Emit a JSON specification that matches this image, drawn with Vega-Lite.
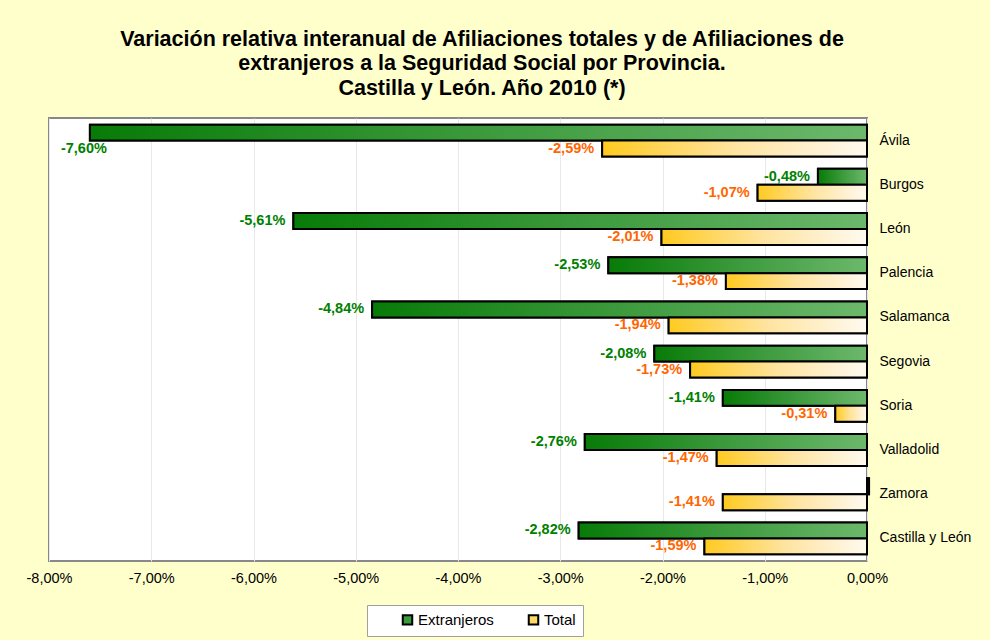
{
  "$schema": "https://vega.github.io/schema/vega-lite/v6.json",
  "width": 818,
  "height": 443,
  "autosize": "none",
  "padding": {"left": 49, "top": 118, "right": 123, "bottom": 79},
  "background": "#FFFFCC",
  "title": {
    "text": ["Variación relativa interanual de Afiliaciones totales y de Afiliaciones de", "extranjeros a la Seguridad Social por Provincia.", "Castilla y León. Año 2010 (*)"],
    "anchor": "middle",
    "dx": 24,
    "offset": 19,
    "font": "Liberation Sans",
    "fontSize": 21.5,
    "fontWeight": "bold",
    "color": "#000000",
    "lineHeight": 24.5
  },
  "config": {
    "locale": {"number": {"decimal": ",", "thousands": ".", "grouping": [3], "currency": ["", " €"], "minus": "-", "percent": "%"}},
    "view": {"stroke": "#888888", "strokeWidth": 2, "fill": "#FFFFFF"},
    "font": "Liberation Sans"
  },
  "data": {
    "values": [
      {"provincia": "Ávila", "serie": "Extranjeros", "valor": -0.0760},
      {"provincia": "Ávila", "serie": "Total", "valor": -0.0259},
      {"provincia": "Burgos", "serie": "Extranjeros", "valor": -0.0048},
      {"provincia": "Burgos", "serie": "Total", "valor": -0.0107},
      {"provincia": "León", "serie": "Extranjeros", "valor": -0.0561},
      {"provincia": "León", "serie": "Total", "valor": -0.0201},
      {"provincia": "Palencia", "serie": "Extranjeros", "valor": -0.0253},
      {"provincia": "Palencia", "serie": "Total", "valor": -0.0138},
      {"provincia": "Salamanca", "serie": "Extranjeros", "valor": -0.0484},
      {"provincia": "Salamanca", "serie": "Total", "valor": -0.0194},
      {"provincia": "Segovia", "serie": "Extranjeros", "valor": -0.0208},
      {"provincia": "Segovia", "serie": "Total", "valor": -0.0173},
      {"provincia": "Soria", "serie": "Extranjeros", "valor": -0.0141},
      {"provincia": "Soria", "serie": "Total", "valor": -0.0031},
      {"provincia": "Valladolid", "serie": "Extranjeros", "valor": -0.0276},
      {"provincia": "Valladolid", "serie": "Total", "valor": -0.0147},
      {"provincia": "Zamora", "serie": "Extranjeros", "valor": 0.0002},
      {"provincia": "Zamora", "serie": "Total", "valor": -0.0141},
      {"provincia": "Castilla y León", "serie": "Extranjeros", "valor": -0.0282},
      {"provincia": "Castilla y León", "serie": "Total", "valor": -0.0159}
    ]
  },
  "encoding": {
    "y": {
      "field": "provincia",
      "type": "nominal",
      "sort": null,
      "scale": {"paddingInner": 0.28, "paddingOuter": 0.15},
      "axis": {"orient": "right", "title": null, "ticks": false, "domain": false, "labelPadding": 12, "labelFontSize": 14, "labelColor": "#000000", "labelFont": "Liberation Sans"}
    },
    "yOffset": {"field": "serie", "type": "nominal", "sort": ["Extranjeros", "Total"]},
    "x": {
      "field": "valor",
      "type": "quantitative",
      "scale": {"domain": [-0.08, 0], "nice": false, "zero": false},
      "axis": {"title": null, "format": ".2%", "values": [-0.08, -0.07, -0.06, -0.05, -0.04, -0.03, -0.02, -0.01, 0], "ticks": false, "domain": false, "labelFlush": false, "labelPadding": 10, "labelFontSize": 14.5, "labelColor": "#000000", "labelFont": "Liberation Sans", "gridColor": "#E8E8E8", "gridWidth": 1}
    }
  },
  "layer": [
    {
      "mark": {"type": "bar", "stroke": "#000000", "strokeWidth": 2, "clip": false},
      "encoding": {
        "color": {
          "field": "serie",
          "type": "nominal",
          "scale": {"domain": ["Extranjeros", "Total"], "range": ["#3A9A3A", "#FFD966"]},
          "legend": {
            "title": null,
            "orient": "none",
            "legendX": 318,
            "legendY": 487,
            "direction": "horizontal",
            "symbolType": "square",
            "symbolSize": 90,
            "symbolStrokeColor": "#000000",
            "symbolStrokeWidth": 2,
            "symbolOpacity": 1,
            "symbolOffset": 26,
            "labelFontSize": 15,
            "labelFont": "Liberation Sans",
            "labelColor": "#000000",
            "labelOffset": 3,
            "columnPadding": 6,
            "fillColor": "#FFFFFF",
            "strokeColor": "#A0A0A0",
            "padding": 7,
            "labelExpr": "datum.label === 'Total' ? 'Total\u00a0\u00a0\u00a0\u00a0\u00a0\u00a0' : datum.label"
          }
        }
      }
    },
    {
      "transform": [{"filter": "datum.serie === 'Extranjeros'"}],
      "mark": {"type": "bar", "stroke": "#000000", "strokeWidth": 2, "clip": false,
        "color": {"gradient": "linear", "x1": 0, "y1": 0, "x2": 1, "y2": 0, "stops": [{"offset": 0, "color": "#077B07"}, {"offset": 0.5, "color": "#3C9A3C"}, {"offset": 1, "color": "#6CB86C"}]}}
    },
    {
      "transform": [{"filter": "datum.serie === 'Total'"}],
      "mark": {"type": "bar", "stroke": "#000000", "strokeWidth": 2, "clip": false,
        "color": {"gradient": "linear", "x1": 0, "y1": 0, "x2": 1, "y2": 0, "stops": [{"offset": 0, "color": "#FFCA20"}, {"offset": 0.5, "color": "#FFE4A0"}, {"offset": 1, "color": "#FFFAF0"}]}}
    },
    {
      "transform": [{"filter": "datum.serie === 'Extranjeros' && datum.valor < 0 && datum.valor > -0.07"}],
      "mark": {"type": "text", "align": "right", "baseline": "middle", "dx": -8, "fontSize": 14.5, "fontWeight": "bold", "color": "#008000", "font": "Liberation Sans"},
      "encoding": {"text": {"field": "valor", "type": "quantitative", "format": ".2%"}}
    },
    {
      "transform": [{"filter": "datum.serie === 'Extranjeros' && datum.valor <= -0.07"}],
      "mark": {"type": "text", "align": "center", "baseline": "middle", "dx": -6, "dy": 16, "fontSize": 14.5, "fontWeight": "bold", "color": "#008000", "font": "Liberation Sans"},
      "encoding": {"text": {"field": "valor", "type": "quantitative", "format": ".2%"}}
    },
    {
      "transform": [{"filter": "datum.serie === 'Total'"}],
      "mark": {"type": "text", "align": "right", "baseline": "middle", "dx": -8, "fontSize": 14.5, "fontWeight": "bold", "color": "#FF6600", "font": "Liberation Sans"},
      "encoding": {"text": {"field": "valor", "type": "quantitative", "format": ".2%"}}
    }
  ]
}
